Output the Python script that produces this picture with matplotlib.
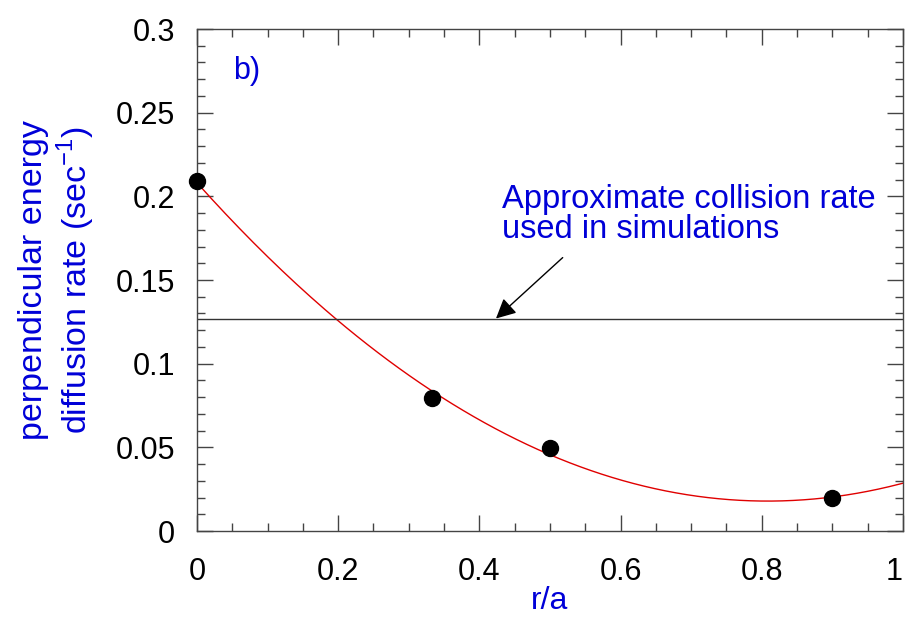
import matplotlib

matplotlib.use("Agg")

import matplotlib.pyplot as plt  # noqa: E402
import numpy as np  # noqa: E402
from matplotlib.ticker import MultipleLocator  # noqa: E402

plt.rcParams["font.family"] = ["Liberation Sans", "DejaVu Sans"]

BLUE = "#0000d8"

# measured points
r_a = [0.0, 0.333, 0.5, 0.9]
rate = [0.209, 0.0795, 0.0495, 0.0197]

# approximate collision rate used in simulations
collision_rate = 0.127

x_ticks = [0, 0.2, 0.4, 0.6, 0.8, 1.0]
x_tick_labels = ["0", "0.2", "0.4", "0.6", "0.8", "1"]
y_ticks = [0, 0.05, 0.1, 0.15, 0.2, 0.25, 0.3]
y_tick_labels = ["0", "0.05", "0.1", "0.15", "0.2", "0.25", "0.3"]

# quadratic fit through the points (red curve)
coef = np.polyfit(r_a, rate, 2)
x_fit = np.linspace(0, 1, 200)
y_fit = np.polyval(coef, x_fit)

fig = plt.figure(figsize=(9.09, 6.24), dpi=100)
ax = fig.add_axes([0.2167, 0.149, 0.7767, 0.8045])

ax.plot(x_fit, y_fit, color="#e00000", linewidth=1.0)
ax.axhline(collision_rate, color="#333333", linewidth=1.0)
ax.plot(r_a, rate, "o", color="black", markersize=11.5, clip_on=False, zorder=5)

ax.set_xlim(0, 1)
ax.set_ylim(0, 0.3)
ax.xaxis.set_minor_locator(MultipleLocator(0.05))
ax.yaxis.set_minor_locator(MultipleLocator(0.01))
ax.set_xticks(x_ticks, x_tick_labels)
ax.set_yticks(y_ticks, y_tick_labels)

ax.tick_params(which="both", direction="in", top=True, right=True,
               color="#444444", width=1.0, labelsize=22)
ax.tick_params(which="major", length=11.5)
ax.tick_params(which="minor", length=6)
ax.tick_params(axis="x", which="major", pad=19)
ax.tick_params(axis="y", which="major", pad=16)
ax.get_xticklabels()[-1].set_horizontalalignment("right")
for sp in ax.spines.values():
    sp.set_color("#444444")
    sp.set_linewidth(1.0)

ax.set_xlabel("r/a", color=BLUE, fontsize=23, labelpad=-1)
ax.set_ylabel("perpendicular energy\ndiffusion rate (sec$^{\\mathregular{-1}}$)",
              color=BLUE, fontsize=24.5, labelpad=13, linespacing=1.2)

ax.text(0.051, 0.27, "b)", color=BLUE, fontsize=22)
ax.annotate("", xy=(0.4235, collision_rate), xytext=(0.518, 0.1634),
            arrowprops=dict(arrowstyle="-|>", color="black", lw=1.0,
                            mutation_scale=30, shrinkA=0, shrinkB=0))
ax.text(0.432, 0.175, "Approximate collision rate\nused in simulations",
        color=BLUE, fontsize=23.5, linespacing=0.95, va="baseline")

fig.savefig("out.png", dpi=100)
